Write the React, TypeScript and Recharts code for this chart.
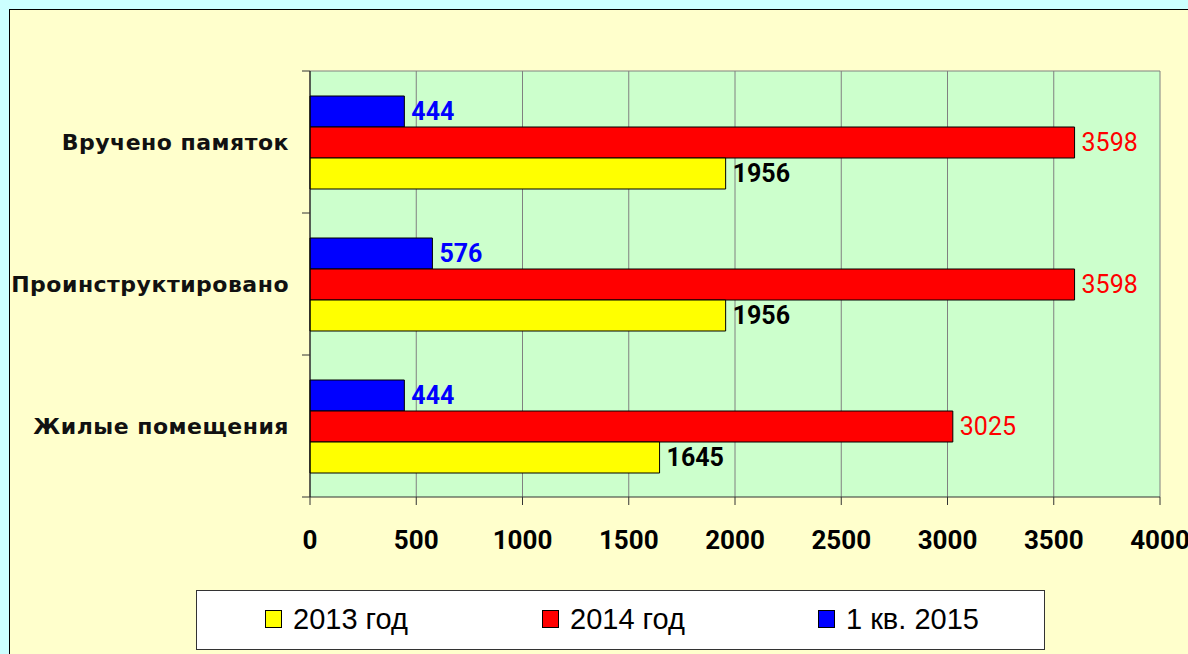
import { BarChart, Bar, XAxis, YAxis, CartesianGrid, LabelList } from 'recharts'

const categories = ['Вручено памяток', 'Проинструктировано', 'Жилые помещения']
const values2013 = [1956, 1956, 1645]
const values2014 = [3598, 3598, 3025]
const values2015 = [444, 576, 444]
const xTicks = [0, 500, 1000, 1500, 2000, 2500, 3000, 3500, 4000]

const series = [
  { key: 'y2013', name: '2013 год', fill: '#ffff00', label: '#000000', weight: 700 },
  { key: 'y2014', name: '2014 год', fill: '#ff0000', label: '#ff0000', weight: 400 },
  { key: 'q2015', name: '1 кв. 2015', fill: '#0000ff', label: '#0000ff', weight: 700 },
]

const W = 1188
const H = 654
const TOP = 71
const BOTTOM = 497
const HALF_BAND = (BOTTOM - TOP) / categories.length / 2

const chartData = categories.map((name, i) => ({
  name,
  y2013: values2013[i],
  y2014: values2014[i],
  q2015: values2015[i],
}))

function CategoryTick(props: any) {
  const { x, y, payload, index } = props
  const axisX = x + 8
  return (
    <g>
      <line x1={axisX - 8} x2={axisX} y1={y - HALF_BAND} y2={y - HALF_BAND} stroke="#333" />
      {index === categories.length - 1 && (
        <line x1={axisX - 8} x2={axisX} y1={y + HALF_BAND} y2={y + HALF_BAND} stroke="#333" />
      )}
      <text
        x={x - 13}
        y={y}
        dy="0.36em"
        textAnchor="end"
        fontFamily="DejaVu Sans"
        fontWeight={700}
        fontSize={22}
        letterSpacing={0.5}
        fill="#111"
      >
        {payload.value}
      </text>
    </g>
  )
}

export default function App() {
  // top-to-bottom bar order in the picture is 2015, 2014, 2013
  const drawOrder = [...series].reverse()

  return (
    <div style={{ position: 'absolute', left: 0, top: 0, width: W, height: H, background: '#ccffff', overflow: 'hidden' }}>
      <div
        style={{
          position: 'absolute',
          left: 9,
          top: 9,
          width: W,
          height: H + 20,
          background: '#ffffcc',
          border: '1px solid #000',
        }}
      />
      <div style={{ position: 'absolute', left: 0, top: 0 }}>
        <BarChart
          width={W}
          height={H}
          data={chartData}
          layout="vertical"
          margin={{ top: TOP, right: 28, left: 10, bottom: 97 }}
          barSize={31}
          barGap={0}
        >
          <CartesianGrid
            fill="#ccffcc"
            stroke="#808080"
            horizontalCoordinatesGenerator={({ offset }: any) => [offset.top]}
          />
          <XAxis
            type="number"
            domain={[0, 4000]}
            ticks={xTicks}
            height={60}
            tickSize={8}
            tickMargin={26}
            stroke="#333"
            tick={{ fill: '#000', fontFamily: 'Roboto', fontWeight: 700, fontSize: 26 }}
          />
          <YAxis
            type="category"
            dataKey="name"
            width={300}
            stroke="#000"
            tickLine={false}
            tickSize={8}
            tickMargin={0}
            tick={<CategoryTick />}
          />
          {drawOrder.map(s => (
            <Bar key={s.key} dataKey={s.key} name={s.name} fill={s.fill} stroke="#000" strokeWidth={1} isAnimationActive={false}>
              <LabelList
                dataKey={s.key}
                position="right"
                offset={7}
                fill={s.label}
                fontFamily="Roboto"
                fontWeight={s.weight}
                fontSize={25}
              />
            </Bar>
          ))}
        </BarChart>
      </div>
      <div
        style={{
          position: 'absolute',
          left: 196,
          top: 590,
          width: 849,
          height: 60,
          background: '#fff',
          border: '1px solid #333',
          boxSizing: 'border-box',
          fontFamily: '"Liberation Sans", Arial, sans-serif',
          fontSize: 29,
          color: '#000',
        }}
      >
        {series.map((s, i) => (
          <div
            key={s.key}
            style={{ position: 'absolute', left: [68, 345, 621][i], top: 11, height: 34, display: 'flex', alignItems: 'center', whiteSpace: 'nowrap' }}
          >
            <span
              style={{
                display: 'inline-block',
                width: 17,
                height: 18,
                boxSizing: 'border-box',
                background: s.fill,
                border: '1px solid #000',
                marginRight: 11,
              }}
            />
            <span>{s.name}</span>
          </div>
        ))}
      </div>
    </div>
  )
}
